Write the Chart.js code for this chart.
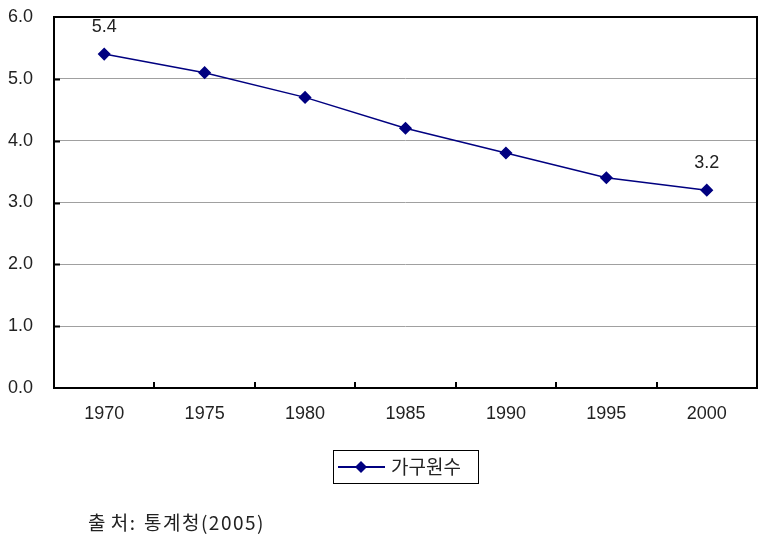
<!DOCTYPE html>
<html>
<head>
<meta charset="utf-8">
<script src="https://cdn.jsdelivr.net/npm/chart.js@4/dist/chart.umd.min.js"></script>
<style>
body{margin:0;background:#fff;}
#wrap{position:relative;width:772px;height:545px;}
#source{position:absolute;left:88px;top:508px;font-family:'Noto Sans CJK KR','Liberation Sans',sans-serif;font-size:19px;letter-spacing:1.5px;word-spacing:-2px;color:#222;white-space:pre;}
</style>
</head>
<body>
<div id="wrap">
<canvas id="canvasHouse" width="772" height="545"></canvas>
<div id="source">출 처:  통계청(2005)</div>
</div>
<script>
let years=['1970','1975','1980','1985','1990','1995','2000']
let sizes=[5.4,5.1,4.7,4.2,3.8,3.4,3.2]
let seriesName='가구원수'
let labelIdx=[0,6]

let lineColor='#000080'
let numFont="'Liberation Sans','Noto Sans CJK KR',sans-serif"

// frame, inner ticks, value labels and legend box
let extras={
    id:'extras',
    afterDraw(chart){
        let c=chart.ctx
        let a=chart.chartArea
        let xs=chart.scales.x
        let ys=chart.scales.y
        c.save()
        c.strokeStyle='#000'
        c.lineWidth=2
        c.strokeRect(a.left,a.top,a.right-a.left,a.bottom-a.top)
        c.beginPath()
        for (let v=1;v<6;v++){
            let y=Math.round(ys.getPixelForValue(v))+0.5
            c.moveTo(a.left,y)
            c.lineTo(a.left+6,y)
        }
        for (let i=0;i<years.length-1;i++){
            let x=Math.round((xs.getPixelForValue(i)+xs.getPixelForValue(i+1))/2)
            c.moveTo(x,a.bottom)
            c.lineTo(x,a.bottom-6)
        }
        c.stroke()

        c.fillStyle='#222'
        c.font='18px '+numFont
        c.textAlign='center'
        c.textBaseline='middle'
        let meta=chart.getDatasetMeta(0)
        labelIdx.forEach(function(i){
            let p=meta.data[i]
            c.fillText(sizes[i].toFixed(1),p.x,p.y-27)
        })

        // legend
        let lx=333,ly=450,lw=145,lh=33
        c.lineWidth=1
        c.strokeStyle='#000'
        c.strokeRect(lx+0.5,ly+0.5,lw,lh)
        let my=ly+17
        c.strokeStyle=lineColor
        c.lineWidth=2
        c.beginPath()
        c.moveTo(lx+5,my)
        c.lineTo(lx+52,my)
        c.stroke()
        c.fillStyle=lineColor
        c.beginPath()
        c.moveTo(lx+28,my-6)
        c.lineTo(lx+34,my)
        c.lineTo(lx+28,my+6)
        c.lineTo(lx+22,my)
        c.closePath()
        c.fill()
        c.fillStyle='#222'
        c.font="19px 'Noto Sans CJK KR',sans-serif"
        c.textAlign='left'
        c.textBaseline='middle'
        c.fillText(seriesName,lx+58,my)
        c.restore()
    }
}

function buildChart(){
    let cfg={
        type:'line',
        data:{
            labels:years,
            datasets:[{
                label:seriesName,
                data:sizes,
                borderColor:lineColor,
                backgroundColor:lineColor,
                borderWidth:1.5,
                pointStyle:'rectRot',
                pointRadius:5.5,
                pointHoverRadius:5.5,
                fill:false,
                tension:0
            }]
        },
        options:{
            responsive:false,
            animation:false,
            layout:{padding:{top:17,right:15,bottom:117,left:0}},
            plugins:{legend:{display:false},tooltip:{enabled:false}},
            scales:{
                x:{
                    offset:true,
                    grid:{display:false,drawTicks:false},
                    border:{display:false},
                    ticks:{color:'#222',font:{family:numFont,size:18},padding:15},
                    afterFit(s){s.height=40}
                },
                y:{
                    min:0,max:6,
                    grid:{color:'#a0a0a0',lineWidth:1,drawTicks:false},
                    border:{display:false},
                    ticks:{stepSize:1,color:'#222',font:{family:numFont,size:18},padding:21,
                        callback:function(v){return v.toFixed(1)}},
                    afterFit(s){
                        s.width=54
                        s.paddingTop=0
                        s.paddingBottom=0
                    }
                }
            }
        },
        plugins:[extras]
    }
    let ctx=document.getElementById('canvasHouse').getContext('2d')
    new Chart(ctx,cfg)
}

buildChart()
</script>
</body>
</html>
